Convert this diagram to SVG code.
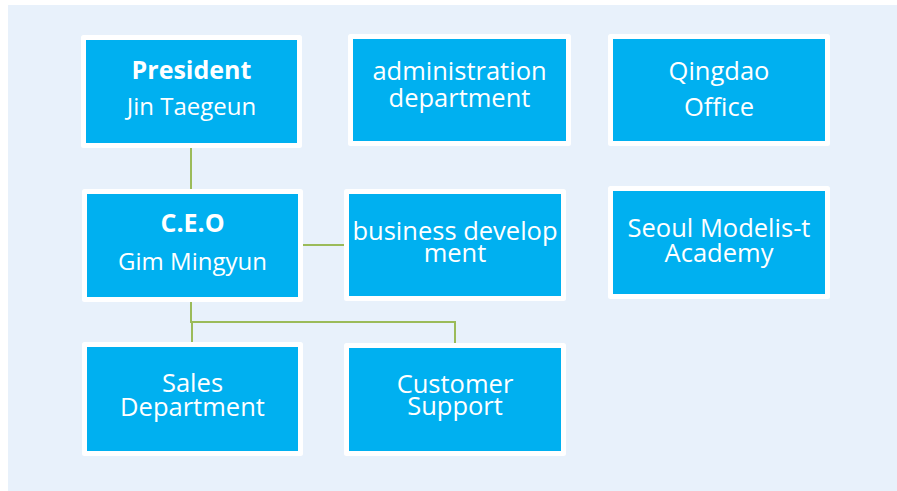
<svg xmlns="http://www.w3.org/2000/svg" width="897" height="491" viewBox="0 0 897 491">
<style>
.node rect{fill:#00B0F0;stroke:#FFFFFF;stroke-width:5;stroke-linejoin:round}
.node text{font-family:"Open Sans","Noto Sans",sans-serif;fill:#FFFFFF;text-anchor:middle;font-size:25.5px}
.node text.b{font-weight:bold;font-size:25px}
.node text.s{font-size:24px}
#connectors path{fill:none;stroke:#9BBB59;stroke-width:2}
</style>
<rect x="0" y="0" width="897" height="491" fill="#FFFFFF"/>
<rect x="8" y="5" width="889" height="486" fill="#E8F1FB"/>
<g id="connectors">
<path d="M191,148 V189"/>
<path d="M303,245 H344"/>
<path d="M191,302 V322 H455 V343"/>
<path d="M191,322 H192 V342"/>
</g>
<g id="president" class="node">
<rect x="83.5" y="37.5" width="216" height="108"/>
<text class="b" x="191.5" y="79">President</text>
<text class="s" x="191.5" y="115">Jin Taegeun</text>
</g>
<g id="admin" class="node">
<rect x="350.5" y="36.5" width="218" height="107"/>
<text x="459.5" y="80">administration</text>
<text x="459.5" y="107">department</text>
</g>
<g id="qingdao" class="node">
<rect x="610.5" y="36.5" width="217" height="107"/>
<text x="719" y="80">Qingdao</text>
<text x="719" y="116">Office</text>
</g>
<g id="ceo" class="node">
<rect x="84.5" y="191.5" width="216" height="108"/>
<text class="b" x="192.5" y="232">C.E.O</text>
<text class="s" x="192.5" y="270">Gim Mingyun</text>
</g>
<g id="business" class="node">
<rect x="346.5" y="191.5" width="217" height="107"/>
<text x="455" y="240">business develop</text>
<text x="455" y="262">ment</text>
</g>
<g id="seoul" class="node">
<rect x="610.5" y="188.5" width="217" height="108"/>
<text x="719" y="237">Seoul Modelis-t</text>
<text x="719" y="262">Academy</text>
</g>
<g id="sales" class="node">
<rect x="84.5" y="344.5" width="216" height="109"/>
<text x="192.5" y="392">Sales</text>
<text x="192.5" y="416">Department</text>
</g>
<g id="customer" class="node">
<rect x="346.5" y="345.5" width="217" height="108"/>
<text x="455" y="393">Customer</text>
<text x="455" y="415">Support</text>
</g>
</svg>
